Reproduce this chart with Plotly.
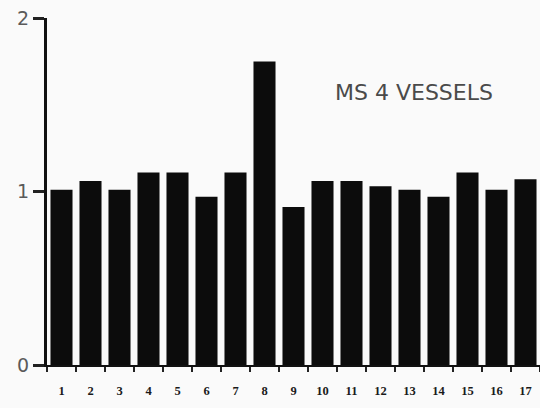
import plotly.graph_objects as go

# Relative values per vessel segment
segments = list(range(1, 18))
values = [1.01, 1.06, 1.01, 1.11, 1.11, 0.97, 1.11, 1.75, 0.91,
          1.06, 1.06, 1.03, 1.01, 0.97, 1.11, 1.01, 1.07]
y_ticks = [0, 1, 2]
title_text = "MS 4 VESSELS"

fig = go.Figure(
    go.Bar(
        x=segments,
        y=values,
        marker=dict(color="#0c0c0c", line=dict(width=0)),
        width=0.76,
    )
)

fig.update_layout(
    width=540,
    height=408,
    margin=dict(l=47, r=0, t=18, b=43),
    paper_bgcolor="#fafafa",
    plot_bgcolor="#fafafa",
    showlegend=False,
    annotations=[
        dict(
            text=title_text,
            xref="paper", yref="paper",
            x=0.745, y=0.785,
            xanchor="center", yanchor="middle",
            showarrow=False,
            font=dict(family="DejaVu Sans", size=22, color="#4a4a4a"),
        )
    ],
)

fig.update_xaxes(
    range=[0.5, 17.5],
    tickvals=segments,
    ticktext=[str(s) for s in segments],
    ticks="outside",
    ticklen=13,
    tickcolor="rgba(0,0,0,0)",
    tickfont=dict(family="Liberation Serif", size=12.5, color="#1a1a1a", weight="bold"),
    showline=True,
    linecolor="#111111",
    linewidth=2,
    showgrid=False,
    zeroline=False,
    minor=dict(ticks="outside", tick0=0.5, dtick=1, ticklen=5,
               tickwidth=2, tickcolor="#222222", showgrid=False),
)

fig.update_yaxes(
    range=[0, 2],
    tickvals=y_ticks,
    ticks="outside",
    ticklen=11,
    tickwidth=3,
    tickcolor="#222222",
    tickfont=dict(family="DejaVu Sans", size=19, color="#5a5a5a"),
    showline=True,
    linecolor="#111111",
    linewidth=3,
    showgrid=False,
    zeroline=False,
)

fig.write_html("out.html")
